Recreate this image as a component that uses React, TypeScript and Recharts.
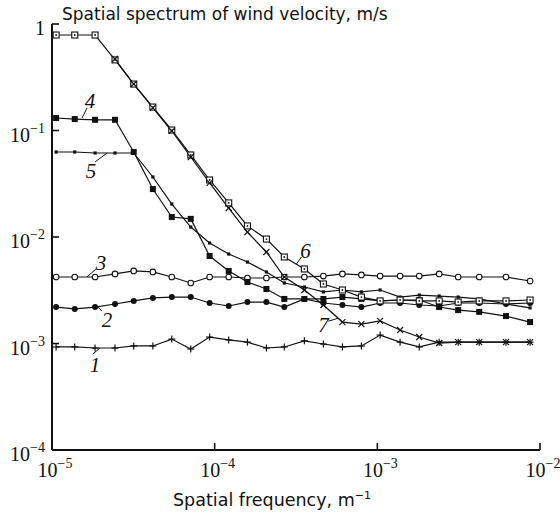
import React from 'react';
import { LineChart, Line, XAxis, YAxis, ReferenceDot } from 'recharts';

// Spatial frequency (m^-1) of the sample points
const freq = [1.06e-5, 1.38e-5, 1.84e-5, 2.44e-5, 3.18e-5, 4.17e-5, 5.45e-5, 7.13e-5, 9.31e-5, 1.22e-4, 1.59e-4, 2.08e-4, 2.68e-4, 3.56e-4, 4.66e-4, 6.10e-4, 7.98e-4, 1.04e-3, 1.38e-3, 1.81e-3, 2.40e-3, 3.14e-3, 4.23e-3, 6.18e-3, 8.69e-3];

const curve1 = [0.000928, 0.000928, 0.000907, 0.000907, 0.000948, 0.000948, 0.00110, 0.000888, 0.00115, 0.00108, 0.00103, 0.000907, 0.000928, 0.00106, 0.000989, 0.000928, 0.000948, 0.00120, 0.00103, 0.000928, 0.00103, 0.00103, 0.00103, 0.00103, 0.00103];
const curve2 = [0.00220, 0.00211, 0.00220, 0.00235, 0.00251, 0.00268, 0.00273, 0.00273, 0.00240, 0.00225, 0.00245, 0.00245, 0.00220, 0.00262, 0.00240, 0.00230, 0.00220, 0.00240, 0.00240, 0.00230, 0.00225, 0.00240, 0.00240, 0.00235, 0.00240];
const curve3 = [0.00421, 0.00421, 0.00421, 0.00450, 0.00480, 0.00470, 0.00421, 0.00370, 0.00421, 0.00421, 0.00412, 0.00412, 0.00421, 0.00421, 0.00430, 0.00450, 0.00440, 0.00430, 0.00430, 0.00430, 0.00450, 0.00421, 0.00421, 0.00421, 0.00386];
const curve4 = [0.131, 0.128, 0.126, 0.126, 0.0628, 0.0282, 0.0154, 0.0148, 0.00663, 0.00480, 0.00378, 0.00325, 0.00262, 0.00262, 0.00262, 0.00273, 0.00262, 0.00251, 0.00256, 0.00256, 0.00220, 0.00206, 0.00198, 0.00181, 0.00159];
const curve5 = [0.0628, 0.0628, 0.0615, 0.0615, 0.0615, 0.0366, 0.0204, 0.0124, 0.00879, 0.00692, 0.00582, 0.00469, 0.00370, 0.00339, 0.00305, 0.00318, 0.00305, 0.00318, 0.00273, 0.00285, 0.00279, 0.00273, 0.00262, 0.00235, 0.00216];
const curve6 = [0.788, 0.788, 0.788, 0.460, 0.273, 0.166, 0.101, 0.0589, 0.0343, 0.0209, 0.0127, 0.00957, 0.00649, 0.00501, 0.00362, 0.00318, 0.00273, 0.00251, 0.00256, 0.00251, 0.00251, 0.00245, 0.00251, 0.00251, 0.00256];
const curve7 = [null, null, null, 0.469, 0.273, 0.163, 0.0989, 0.0564, 0.0322, 0.0187, 0.0111, 0.00723, 0.00421, 0.00318, 0.00230, 0.00159, 0.00152, 0.00163, 0.00134, 0.00115, 0.00101, 0.00103, 0.00103, 0.00103, 0.00103];

const xTicks = [1e-5, 1e-4, 1e-3, 1e-2];
const xTickLabels = ['10|−5', '10|−4', '10|−3', '10|−2'];
const yTicks = [1e-4, 1e-3, 1e-2, 1e-1, 1];
const yTickLabels = ['10|−4', '10|−3', '10|−2', '10|−1', '1'];

// curve labels: text, anchor point on curve (freq, value)
const labelText = ['1', '2', '3', '4', '5', '6', '7'];
const labelFreq = [1.97e-5, 1.915e-5, 1.64e-5, 1.53e-5, 2.18e-5, 3.18e-4, 5.77e-4];
const labelValue = [0.000907, 0.00220, 0.00421, 0.131, 0.0615, 0.00557, 0.00173];
// pixel offsets: leader end (lx, ly), text center/baseline (tx, ty)
const labelOffsets = [
  { lx: -7, ly: 6, tx: -5, ty: 24 },
  { lx: 4, ly: 4, tx: 9, ty: 20 },
  { lx: 9, ly: -8, tx: 14, ty: -7 },
  { lx: 5, ly: -10, tx: 8, ty: -10 },
  { lx: -12, ly: 9, tx: -16, ty: 25 },
  { lx: 5, ly: -7, tx: 9, ty: -6 },
  { lx: -10, ly: 3, tx: -15, ty: 14 },
];

const series = [curve1, curve2, curve3, curve4, curve5, curve6, curve7];
const rows = freq.map((f, i) => {
  const r: any = { f };
  series.forEach((s, k) => { r['s' + (k + 1)] = s[i]; });
  return r;
});

const INK = '#111';
const SERIF = '"Liberation Serif", "DejaVu Serif", serif';
const SANS = '"DejaVu Sans", sans-serif';

type Kind = 'plus' | 'dot' | 'circle' | 'bigsq' | 'smallsq' | 'dotsq' | 'cross';

const makeDot = (kind: Kind) => (props: any) => {
  const { cx, cy, index, value } = props;
  const key = `${kind}-${index}`;
  if (cx == null || cy == null || value == null || Number.isNaN(cx) || Number.isNaN(cy)) return <g key={key} />;
  switch (kind) {
    case 'plus':
      return (
        <g key={key} stroke={INK} strokeWidth={1.2}>
          <line x1={cx - 3.5} y1={cy} x2={cx + 3.5} y2={cy} />
          <line x1={cx} y1={cy - 3.5} x2={cx} y2={cy + 3.5} />
        </g>
      );
    case 'dot':
      return <circle key={key} cx={cx} cy={cy} r={3} fill={INK} />;
    case 'circle':
      return <circle key={key} cx={cx} cy={cy} r={2.8} fill="#fff" stroke={INK} strokeWidth={1.1} />;
    case 'bigsq':
      return <rect key={key} x={cx - 3} y={cy - 3} width={6} height={6} fill={INK} />;
    case 'smallsq':
      return <rect key={key} x={cx - 1.6} y={cy - 1.6} width={3.2} height={3.2} fill={INK} />;
    case 'dotsq':
      return (
        <g key={key}>
          <rect x={cx - 3} y={cy - 3} width={6} height={6} fill="#fff" stroke={INK} strokeWidth={1.1} />
          <circle cx={cx} cy={cy} r={0.9} fill={INK} />
        </g>
      );
    case 'cross':
      return (
        <g key={key} stroke={INK} strokeWidth={1.2}>
          <line x1={cx - 3} y1={cy - 3} x2={cx + 3} y2={cy + 3} />
          <line x1={cx - 3} y1={cy + 3} x2={cx + 3} y2={cy - 3} />
        </g>
      );
  }
  return <g key={key} />;
};

const kinds: Kind[] = ['plus', 'dot', 'circle', 'bigsq', 'smallsq', 'dotsq', 'cross'];

const PowerText = ({ x, y, label, anchor }: any) => {
  const parts = String(label).split('|');
  return (
    <text x={x} y={y} textAnchor={anchor} fontFamily={SERIF} fontSize={20} fill={INK}>
      {parts[0]}
      {parts[1] ? <tspan dy={-9} fontSize={14}>{parts[1]}</tspan> : null}
    </text>
  );
};

const XTick = (props: any) => {
  const { x, y, payload, index } = props;
  const i = xTicks.indexOf(payload.value);
  const label = xTickLabels[i >= 0 ? i : index];
  return (
    <g>
      {i > 0 ? <line x1={x} y1={y} x2={x} y2={y - 7} stroke={INK} strokeWidth={1.6} /> : null}
      <PowerText x={x + 3} y={y + 27} label={label} anchor="middle" />
    </g>
  );
};

const YTick = (props: any) => {
  const { x, y, payload, index } = props;
  const i = yTicks.indexOf(payload.value);
  const label = yTickLabels[i >= 0 ? i : index];
  return (
    <g>
      {i > 0 ? <line x1={x} y1={y} x2={x + 7} y2={y} stroke={INK} strokeWidth={1.6} /> : null}
      <PowerText x={x - 7} y={y + 11} label={label} anchor="end" />
    </g>
  );
};

const Annot = (props: any) => {
  const { cx, cy, k } = props;
  if (cx == null || cy == null) return <g />;
  const o = labelOffsets[k];
  return (
    <g>
      <line x1={cx} y1={cy} x2={cx + o.lx} y2={cy + o.ly} stroke={INK} strokeWidth={1} />
      <text x={cx + o.tx} y={cy + o.ty} textAnchor="middle" fontFamily={SERIF} fontStyle="italic" fontSize={21} fill={INK}>
        {labelText[k]}
      </text>
    </g>
  );
};

export default function App() {
  return (
    <div style={{ position: 'absolute', left: 0, top: 0, width: 560, height: 515, background: '#fff' }}>
      <LineChart width={560} height={515} data={rows} margin={{ top: 24, right: 20, bottom: 0, left: 0 }}>
        <XAxis
          dataKey="f"
          type="number"
          scale="log"
          domain={[1e-5, 1e-2]}
          ticks={xTicks}
          interval={0}
          allowDataOverflow
          height={65}
          tickSize={0}
          tickMargin={0}
          tickLine={false}
          axisLine={{ stroke: INK, strokeWidth: 2 }}
          tick={<XTick />}
        />
        <YAxis
          type="number"
          scale="log"
          domain={[1e-4, 1]}
          ticks={yTicks}
          interval={0}
          allowDataOverflow
          width={52}
          tickSize={0}
          tickMargin={0}
          tickLine={false}
          axisLine={{ stroke: INK, strokeWidth: 2 }}
          tick={<YTick />}
        />
        {kinds.map((kind, k) => (
          <Line
            key={kind}
            dataKey={'s' + (k + 1)}
            stroke={INK}
            strokeWidth={1.2}
            dot={makeDot(kind)}
            activeDot={false}
            isAnimationActive={false}
            connectNulls={false}
          />
        ))}
        {labelText.map((t, k) => (
          <ReferenceDot
            key={'lab' + t}
            x={labelFreq[k]}
            y={labelValue[k]}
            r={0}
            ifOverflow="visible"
            shape={(p: any) => <Annot {...p} k={k} />}
          />
        ))}
      </LineChart>
      <svg width={560} height={515} style={{ position: 'absolute', left: 0, top: 0, pointerEvents: 'none' }}>
        <text x={62} y={20} fontFamily={SANS} fontSize={17} fill={INK}>
          Spatial spectrum of wind velocity, m/s
        </text>
        <text x={272} y={506} textAnchor="middle" fontFamily={SANS} fontSize={17.5} fill={INK}>
          Spatial frequency, m<tspan dy={-7} fontSize={11}>−1</tspan>
        </text>
      </svg>
    </div>
  );
}
